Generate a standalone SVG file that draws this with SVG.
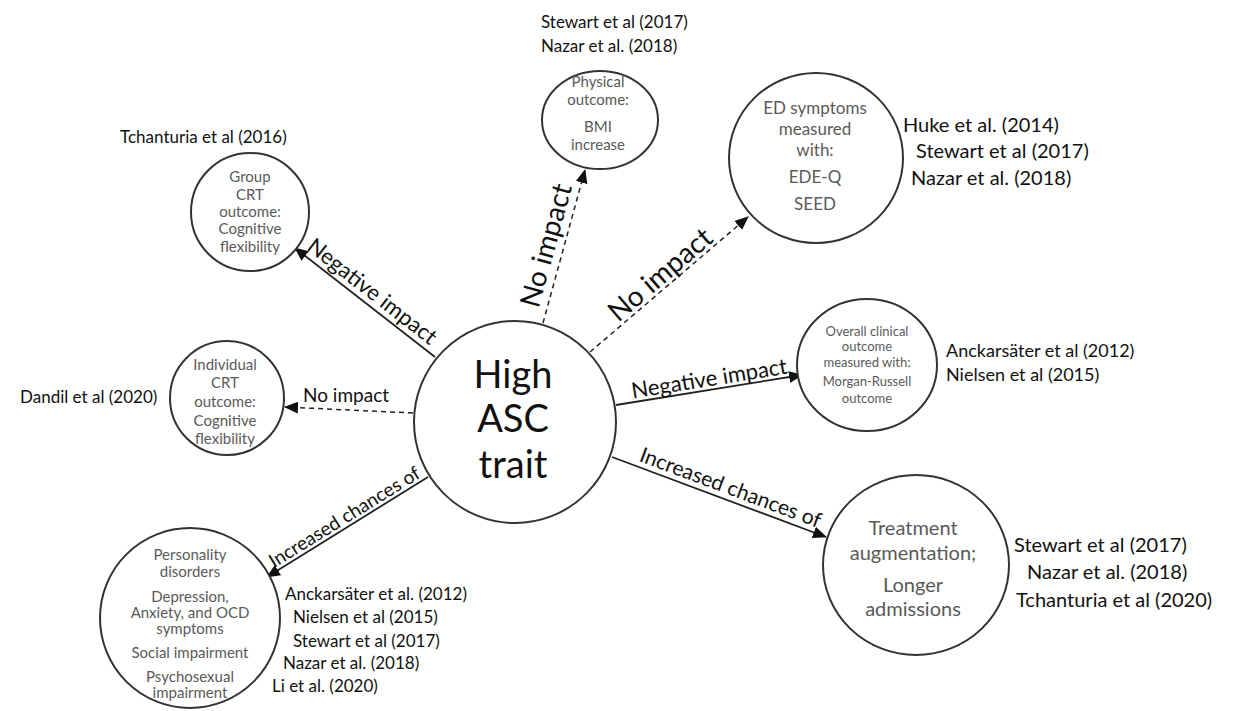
<svg xmlns="http://www.w3.org/2000/svg" width="1238" height="711" viewBox="0 0 1238 711">
<defs>
<marker id="ah" viewBox="0 0 14 12" refX="13" refY="6" markerWidth="14" markerHeight="12" orient="auto" markerUnits="userSpaceOnUse"><path d="M0,0 L14,6 L0,12 z" fill="#111"/></marker>
</defs>
<style>
.c{fill:#fff;stroke:#333;stroke-width:2}
.n{font-family:Lato,"Open Sans",sans-serif;fill:#5a5a5a;text-anchor:middle}
.cit{font-family:Lato,"Open Sans",sans-serif;fill:#111}
.lbl{font-family:Lato,"Open Sans",sans-serif;fill:#111;text-anchor:middle}
.s{stroke:#222;stroke-width:1.8;fill:none}
.d{stroke:#222;stroke-width:1.5;fill:none;stroke-dasharray:5 4}
</style>
<rect width="1238" height="711" fill="#fff"/>
<g id="connectors">
<line class="s" x1="435" y1="357" x2="295" y2="248" marker-end="url(#ah)"/>
<line class="d" x1="413" y1="413" x2="285" y2="407" marker-end="url(#ah)"/>
<line class="s" x1="428" y1="477" x2="267" y2="577" marker-end="url(#ah)"/>
<line class="d" x1="543" y1="323" x2="585" y2="170" marker-end="url(#ah)"/>
<line class="d" x1="590" y1="352" x2="748" y2="217" marker-end="url(#ah)"/>
<line class="s" x1="616" y1="405" x2="802" y2="375" marker-end="url(#ah)"/>
<line class="s" x1="612" y1="457" x2="826" y2="537" marker-end="url(#ah)"/>
<text class="lbl" font-size="22" transform="translate(364,302) rotate(37.9)" y="-6">Negative impact</text>
<text class="cit" font-size="19" x="303" y="402">No impact</text>
<text class="lbl" font-size="19" transform="translate(350,526) rotate(-31.8)" y="-4">Increased chances of</text>
<text class="lbl" font-size="28" transform="translate(563,250) rotate(-74.6)" y="-8">No impact</text>
<text class="lbl" font-size="28" transform="translate(669,285) rotate(-40.5)" y="-4">No impact</text>
<text class="lbl" font-size="22" transform="translate(711,390) rotate(-9.2)" y="-4">Negative impact</text>
<text class="lbl" font-size="21" transform="translate(726,500) rotate(20.5)" y="-6">Increased chances of</text>
</g>
<g id="central">
<circle class="c" cx="515" cy="422" r="101"/>
<text class="lbl" font-size="38" x="513" y="388">High</text>
<text class="lbl" font-size="38" x="513" y="432">ASC</text>
<text class="lbl" font-size="38" x="513" y="478">trait</text>
</g>
<g id="group-crt">
<circle class="c" cx="250" cy="212" r="59"/>
<text class="n" font-size="15"><tspan x="250" y="182">Group</tspan><tspan x="250" y="200">CRT</tspan><tspan x="250" y="217">outcome:</tspan><tspan x="250" y="234">Cognitive</tspan><tspan x="250" y="252">flexibility</tspan></text>
<text class="cit" font-size="17" x="120" y="143">Tchanturia et al (2016)</text>
</g>
<g id="individual-crt">
<circle class="c" cx="227" cy="398" r="57"/>
<text class="n" font-size="15"><tspan x="225" y="370">Individual</tspan><tspan x="225" y="388">CRT</tspan><tspan x="225" y="407">outcome:</tspan><tspan x="225" y="426">Cognitive</tspan><tspan x="225" y="444">flexibility</tspan></text>
<text class="cit" font-size="17" x="20" y="403">Dandil et al (2020)</text>
</g>
<g id="comorbidity">
<circle class="c" cx="190" cy="618" r="90"/>
<text class="n" font-size="15"><tspan x="190" y="560">Personality</tspan><tspan x="190" y="577">disorders</tspan><tspan x="190" y="602">Depression,</tspan><tspan x="190" y="618">Anxiety, and OCD</tspan><tspan x="190" y="634">symptoms</tspan><tspan x="190" y="658">Social impairment</tspan><tspan x="190" y="682">Psychosexual</tspan><tspan x="190" y="698">impairment</tspan></text>
<text class="cit" font-size="17"><tspan x="285" y="600">Anckarsäter et al. (2012)</tspan><tspan x="293" y="623">Nielsen et al (2015)</tspan><tspan x="293" y="647">Stewart et al (2017)</tspan><tspan x="283" y="669">Nazar et al. (2018)</tspan><tspan x="272" y="692">Li et al. (2020)</tspan></text>
</g>
<g id="physical">
<ellipse class="c" cx="600" cy="120" rx="58" ry="49"/>
<text class="n" font-size="15"><tspan x="598" y="87">Physical</tspan><tspan x="598" y="105">outcome:</tspan><tspan x="598" y="132">BMI</tspan><tspan x="598" y="150">increase</tspan></text>
<text class="cit" font-size="17"><tspan x="541" y="28">Stewart et al (2017)</tspan><tspan x="541" y="52">Nazar et al. (2018)</tspan></text>
</g>
<g id="ed-symptoms">
<ellipse class="c" cx="816" cy="158" rx="87" ry="85"/>
<text class="n" font-size="17"><tspan x="815" y="114">ED symptoms</tspan><tspan x="815" y="135">measured</tspan><tspan x="815" y="156">with:</tspan><tspan x="815" y="183">EDE-Q</tspan><tspan x="815" y="210">SEED</tspan></text>
<text class="cit" font-size="20"><tspan x="903" y="132">Huke et al. (2014)</tspan><tspan x="916" y="158">Stewart et al (2017)</tspan><tspan x="911" y="185">Nazar et al. (2018)</tspan></text>
</g>
<g id="clinical-outcome">
<ellipse class="c" cx="867" cy="365" rx="70" ry="66"/>
<text class="n" font-size="13"><tspan x="867" y="336">Overall clinical</tspan><tspan x="867" y="351">outcome</tspan><tspan x="867" y="367">measured with:</tspan><tspan x="867" y="386">Morgan-Russell</tspan><tspan x="867" y="403">outcome</tspan></text>
<text class="cit" font-size="18"><tspan x="946" y="357">Anckarsäter et al (2012)</tspan><tspan x="946" y="381">Nielsen et al (2015)</tspan></text>
</g>
<g id="treatment">
<ellipse class="c" cx="916" cy="565" rx="93" ry="90"/>
<text class="n" font-size="20"><tspan x="913" y="535">Treatment</tspan><tspan x="913" y="560">augmentation;</tspan><tspan x="913" y="592">Longer</tspan><tspan x="913" y="616">admissions</tspan></text>
<text class="cit" font-size="20"><tspan x="1014" y="552">Stewart et al (2017)</tspan><tspan x="1027" y="579">Nazar et al. (2018)</tspan><tspan x="1016" y="607">Tchanturia et al (2020)</tspan></text>
</g>
</svg>
